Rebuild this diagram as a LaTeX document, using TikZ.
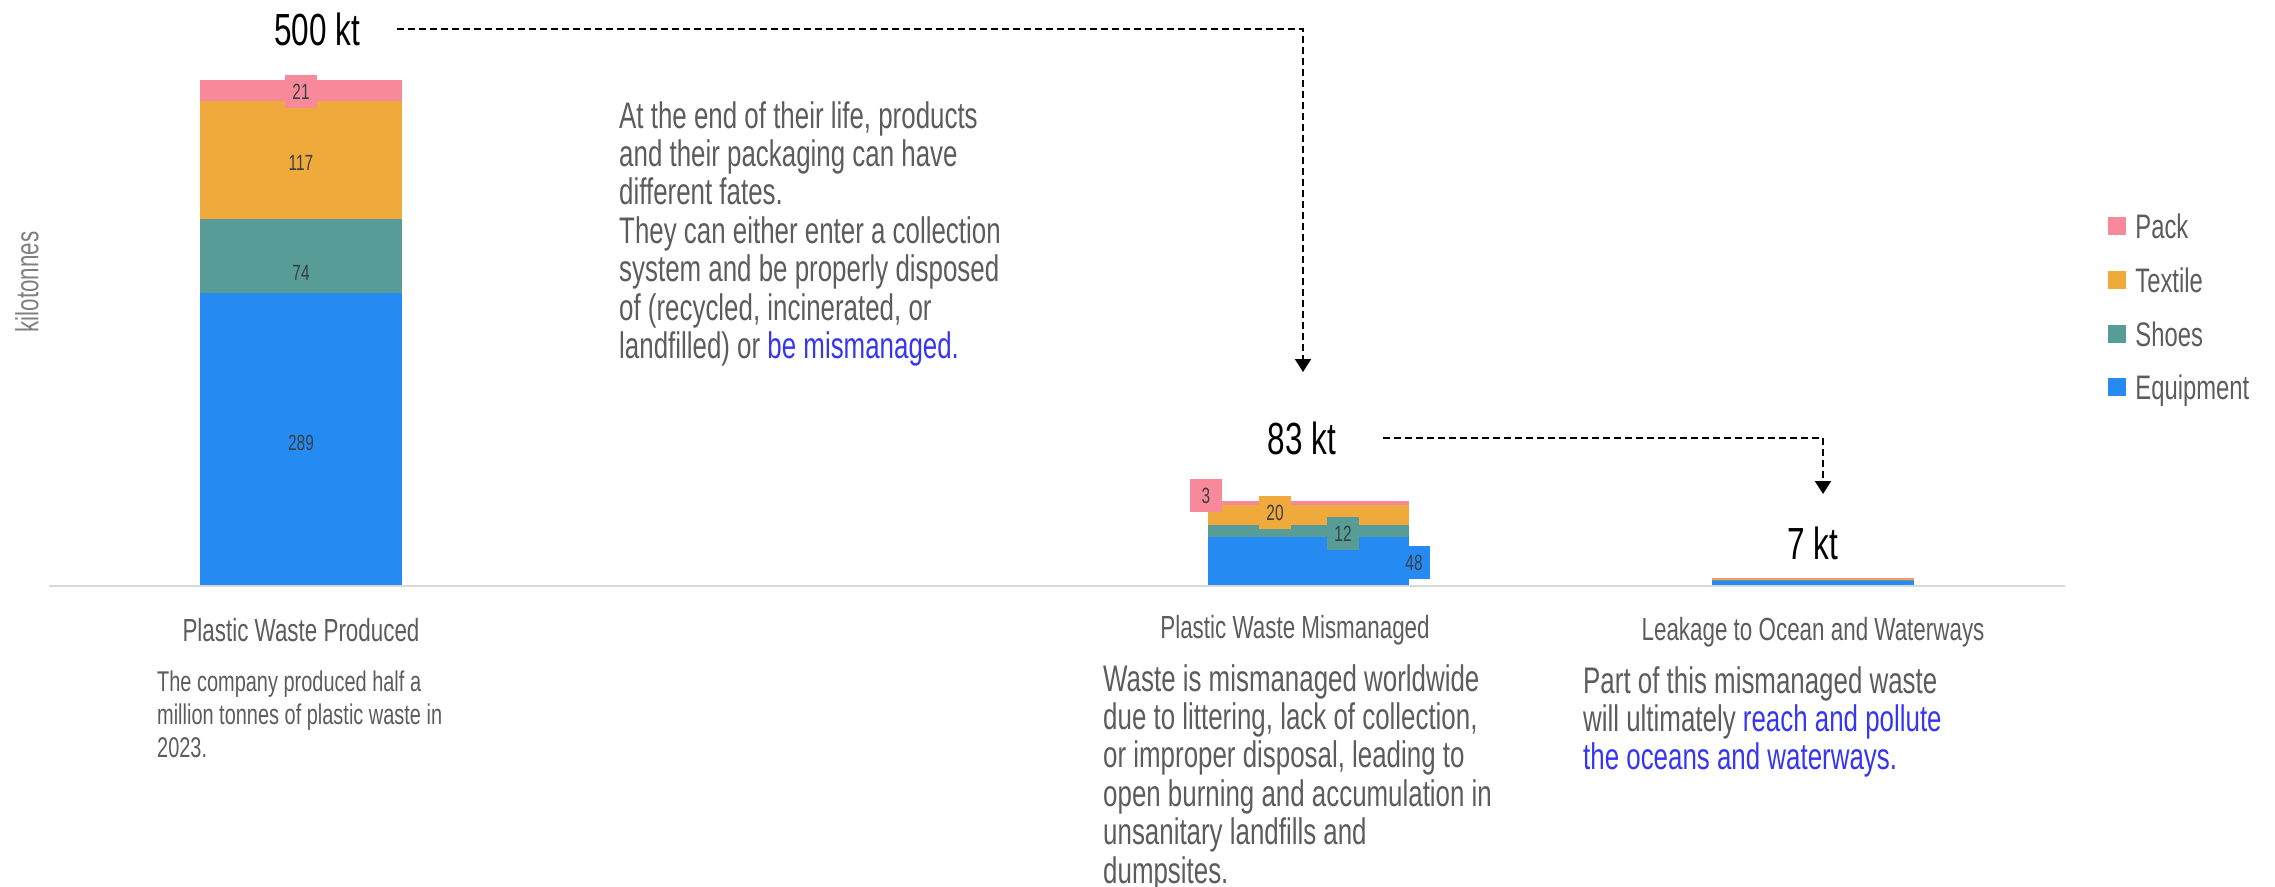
\documentclass[tikz,border=0pt]{standalone}
\usepackage{fontspec}
\setmainfont{Liberation Sans}[FakeStretch=0.7]
\usetikzlibrary{arrows.meta, positioning}

\definecolor{pack}{HTML}{F7899A}
\definecolor{textile}{HTML}{F0A93B}
\definecolor{shoes}{HTML}{579C97}
\definecolor{equip}{HTML}{258BF2}
\definecolor{bodygrey}{HTML}{5C5C5C}
\definecolor{digitgrey}{HTML}{3A3F44}
\definecolor{linkblue}{HTML}{3636EE}

\begin{document}
\begin{tikzpicture}[x=1pt, y=-1pt,
    seglabel/.style={fill=#1, inner sep=0pt, minimum width=32pt, minimum height=33pt,
        text height=16pt, text depth=0pt, font=\fontsize{22}{22}\selectfont, text=digitgrey},
    total/.style={inner sep=0pt, font=\fontsize{45}{45}\selectfont, text=black},
    catname/.style={inner sep=0pt, font=\fontsize{32}{32}\selectfont, text=bodygrey},
    story/.style={inner sep=0pt, anchor=north west, align=left, text=bodygrey,
        font=\fontsize{37}{38.4}\selectfont},
    legbox/.style={fill=#1, minimum size=18pt, inner sep=0pt},
    legtext/.style={inner sep=0pt, text height=24pt, text depth=0pt,
        font=\fontsize{34}{34}\selectfont, text=bodygrey},
    flow/.style={dashed, dash pattern=on 7pt off 4pt, line width=2pt,
        -{Triangle[width=16pt, length=13pt]}}
]
    \useasboundingbox (0,0) rectangle (2275,886);

    % axis
    \draw [gray!30, line width=2.5pt] (49,586) -- (2065,586);
    \node [catname, rotate=90, text=gray] (yname) at (27,282) {kilotonnes};

    % bar 1 : produced
    \fill [equip]   (200,585) rectangle (402,293);
    \fill [shoes]   (200,293) rectangle (402,219);
    \fill [textile] (200,219) rectangle (402,101);
    \fill [pack]    (200,101) rectangle (402,80);
    \node [seglabel=equip]   (E1) at (301,442) {289};
    \node [seglabel=shoes]   (S1) at (301,272) {74};
    \node [seglabel=textile] (T1) at (301,162) {117};
    \node [seglabel=pack]    (P1) at (301,91)  {21};

    % bar 2 : mismanaged
    \fill [equip]   (1208,585) rectangle (1409,537);
    \fill [shoes]   (1208,537) rectangle (1409,525);
    \fill [textile] (1208,525) rectangle (1409,505);
    \fill [pack]    (1208,505) rectangle (1409,501);
    \node [seglabel=equip]   (E2) at (1414,562) {48};
    \node [seglabel=shoes]   (S2) at (1343,533) {12};
    \node [seglabel=textile] (T2) at (1275,512) {20};
    \node [seglabel=pack]    (P2) at (1206,495) {3};

    % bar 3 : leakage
    \fill [equip]   (1712,585) rectangle (1914,581);
    \fill [shoes]   (1712,581) rectangle (1914,580);
    \fill [textile] (1712,580) rectangle (1914,578.5);
    \fill [pack]    (1712,578.5) rectangle (1914,578);

    % totals
    \node [total] (kt500) at (317,29)  {500 kt};
    \node [total] (kt83)  at (1302,438) {83 kt};
    \node [total] (kt7)   at (1813,543) {7 kt};

    \coordinate (tipA) at (1303,372);
    \coordinate (tipB) at (1823,494);
    \draw [flow, shorten <=37pt] (kt500.east) -| (tipA);
    \draw [flow, shorten <=47pt] (kt83.east) -| (tipB);

    % categories
    \node [catname] (cat1) at (301,630)  {Plastic Waste Produced};
    \node [catname] (cat2) at (1295,630) {Plastic Waste Mismanaged};
    \node [catname] (cat3) at (1813,632) {Leakage to Ocean and Waterways};

    \node [story, font=\fontsize{28.5}{33}\selectfont] (txt1) at (157,671)
        {The company produced half a\\million tonnes of plastic waste in\\2023.};
    \node [story] (txt2) at (1103,664)
        {Waste is mismanaged worldwide\\due to littering, lack of collection,\\or improper disposal, leading to\\
         open burning and accumulation in\\unsanitary landfills and\\dumpsites.};
    \node [story] (txt3) at (1583,666)
        {Part of this mismanaged waste\\will ultimately \textcolor{linkblue}{reach and pollute}\\
         \textcolor{linkblue}{the oceans and waterways.}};
    \node [story] (fates) at (619,101)
        {At the end of their life, products\\and their packaging can have\\different fates.\\
         They can either enter a collection\\system and be properly disposed\\of (recycled, incinerated, or\\
         landfilled) or \textcolor{linkblue}{be mismanaged.}};

    % legend
    \node [legbox=pack]    (lgPack)  at (2117,226) {};
    \node [legbox=textile] (lgTex)   at (2117,280) {};
    \node [legbox=shoes]   (lgShoe)  at (2117,334) {};
    \node [legbox=equip]   (lgEquip) at (2117,387) {};
    \node [legtext, right=9pt of lgPack]  {Pack};
    \node [legtext, right=9pt of lgTex]   {Textile};
    \node [legtext, right=9pt of lgShoe]  {Shoes};
    \node [legtext, right=9pt of lgEquip] {Equipment};

\end{tikzpicture}
\end{document}
